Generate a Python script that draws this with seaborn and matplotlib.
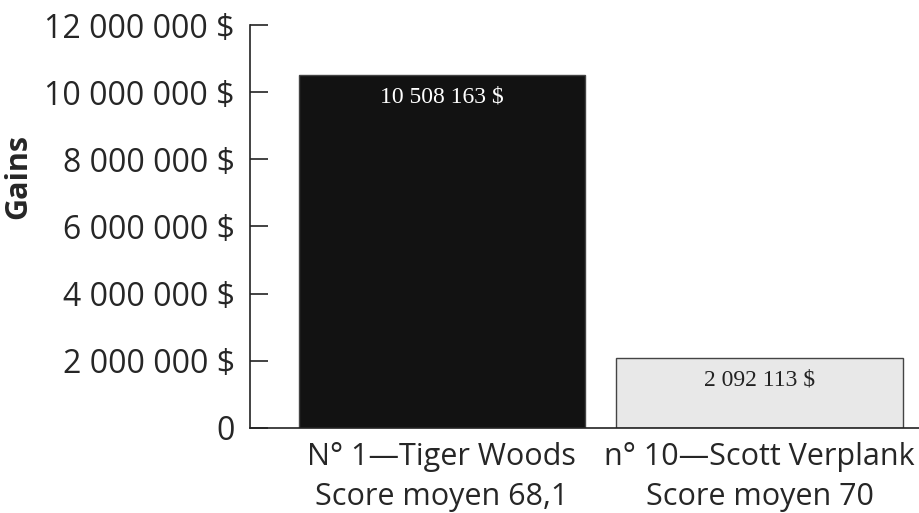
import pandas as pd
import seaborn as sns
import matplotlib.pyplot as plt
from matplotlib.ticker import FuncFormatter

# Data
players = ['N° 1—Tiger Woods\nScore moyen 68,1', 'n° 10—Scott Verplank\nScore moyen 70']
earnings = [10508163, 2092113]
bar_colors = ['#121212', '#e8e8e8']
label_colors = ['white', '#222222']

df = pd.DataFrame({'joueur': players, 'gains': earnings})


def fmt_dollars(v, pos=None):
    if v == 0:
        return '0'
    return f"{int(v):,}".replace(',', ' ') + ' $'


sns.set_style('white')
plt.rcParams['font.family'] = ['Open Sans', 'DejaVu Sans']

fig = plt.figure(figsize=(9.2, 5.13), dpi=100)
ax = fig.add_axes([0.272, 0.166, 0.728, 0.785])

sns.barplot(data=df, x='joueur', y='gains', hue='joueur', palette=bar_colors,
            width=0.9, edgecolor='#444444', linewidth=1.0, saturation=1,
            legend=False, ax=ax)

# Value labels inside the top of each bar
for i, (v, c) in enumerate(zip(earnings, label_colors)):
    ax.annotate(fmt_dollars(v), xy=(i, v), xytext=(0, -16), textcoords='offset points',
                ha='center', va='center', color=c, fontsize=17,
                family=['Liberation Serif', 'DejaVu Serif'])

ax.set_ylim(0, 12000000)
ax.set_xlim(-0.602, 1.505)
ax.set_yticks(range(0, 12000001, 2000000))
ax.yaxis.set_major_formatter(FuncFormatter(fmt_dollars))

ax.set_xlabel('')
ax.set_ylabel('Gains', fontsize=22, fontweight='bold')
ax.yaxis.set_label_coords(-0.324, 0.625)

ax.tick_params(axis='y', direction='in', length=13, width=1.2, color='#222222',
               labelsize=23, pad=11, left=True)
ax.tick_params(axis='x', length=0, labelsize=22, pad=10)

for t in ax.get_xticklabels():
    t.set_linespacing(1.45)

sns.despine(ax=ax, top=True, right=True)
ax.spines['left'].set_color('#222222')
ax.spines['bottom'].set_color('#222222')
ax.spines['left'].set_linewidth(1.2)
ax.spines['bottom'].set_linewidth(1.2)

plt.savefig('out.png', dpi=100)
